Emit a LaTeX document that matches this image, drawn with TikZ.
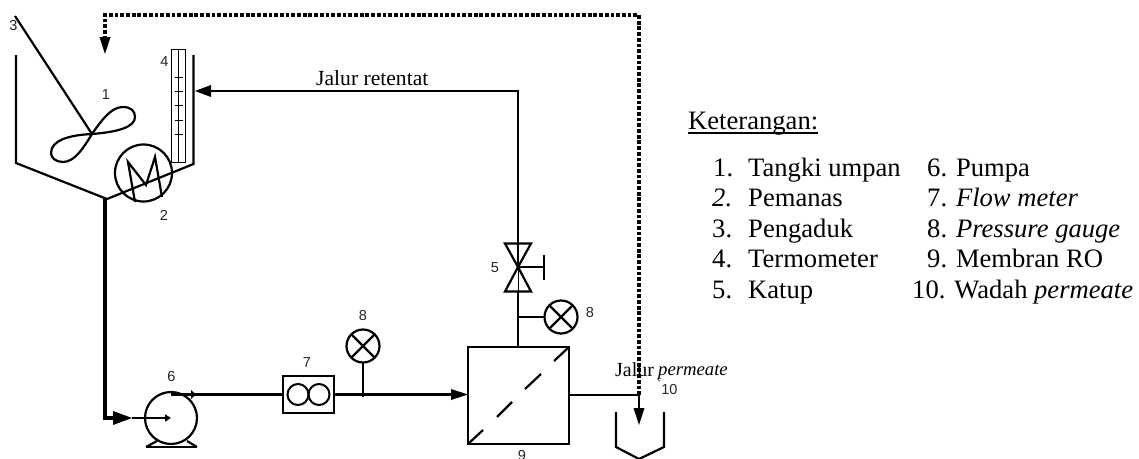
\documentclass[tikz,border=0pt]{standalone}
\usepackage{fontspec}
\setmainfont{Liberation Serif}
\newfontfamily\labelfont{Liberation Sans}
\usetikzlibrary{arrows.meta}
\tikzset{
  pipe/.style={line width=2.2pt,line join=miter},
  thick pipe/.style={line width=3.6pt},
  thin pipe/.style={line width=1.5pt},
  recycle/.style={line width=3.5pt,dash pattern=on 3.8pt off 1.9pt},
  small tip/.style={-{Triangle[length=6pt,width=7pt]}},
  gauge/.style={circle,draw,line width=2.2pt,minimum size=33pt,inner sep=0pt,outer sep=0pt},
  numlabel/.style={font=\labelfont\fontsize{14.5}{15}\selectfont,text=black!85,inner sep=0pt},
  legend/.style={font=\fontsize{26.6}{28}\selectfont,anchor=base west,inner sep=0pt},
}
\begin{document}
\begin{tikzpicture}[x=1pt,y=-1pt]
\clip (0,0) rectangle (1139,458);
\fill[white] (0,0) rectangle (1139,458);
% tank
\coordinate (tankout) at (107,199);
\draw[pipe] (16,55) -- (16,163) -- (tankout) -- (193.5,164) -- (193.5,55);
% stirrer
\coordinate (hub) at (92,134);
\draw[pipe] (15,16) -- (hub);
\draw[pipe] (hub) .. controls (103,118) and (112,107) .. (123,107)
  .. controls (131,107) and (135,111) .. (135,117)
  .. controls (135,127) and (118,132) .. (hub);
\draw[pipe] (hub) .. controls (84,147) and (75,162) .. (63,162)
  .. controls (56,162) and (51,158) .. (51,153)
  .. controls (51,140) and (70,135) .. (hub);
% thermometer
\draw[line width=0.9pt] (171.5,49.5) rectangle (185.5,162);
\draw[line width=0.9pt] (178.5,49.5) -- (178.5,162);
\foreach \yy in {77.5,91.5,105.5,120,134}
  \draw[line width=0.8pt] (174.5,\yy) -- (182.5,\yy);
% heater
\node[circle,draw,line width=2.2pt,minimum size=57pt,inner sep=0pt,fill=none] (heater) at (143.5,173) {};
\draw[pipe] (135,202) -- (128,162) -- (146,185) -- (155,157) -- (162,197);
% recycle line
\coordinate (reca) at (639,395);
\coordinate (recb) at (639,15);
\coordinate (recc) at (105,15);
\coordinate (recd) at (105,54);
\draw[recycle] (reca) -- (recb) -- (recc) -- (105,38);
\fill (recd) -- (99.5,37) -- (110.5,37) -- cycle;
% feed
\coordinate (feedtop) at (105,199);
\coordinate (feedcorner) at (105,418);
\node[circle,draw,line width=2.2pt,minimum size=52pt,inner sep=0pt] (pump) at (171,418) {};
\draw[thick pipe] (feedtop) -- (feedcorner) -- (116,418);
\fill (132,418) -- (113,411) -- (113,425) -- cycle;
\draw[thin pipe,small tip] (132,418) -- (pump.center);
\draw[pipe] (146,447) -- (157,441);
\draw[pipe] (187,441) -- (197,447);
\draw[pipe] (146,447) -- (197,447);
% flow meter
\node[draw,line width=2.2pt,minimum width=51pt,minimum height=37pt,inner sep=0pt,outer sep=0pt] (flow) at (308.5,394.5) {};
\draw[line width=2pt] (298,394.5) circle (10.5pt);
\draw[line width=2pt] (319,394.5) circle (10.5pt);
\coordinate (pumpout) at (171,394.5);
\draw[pipe] (pumpout) -- (flow.west);
\fill (196,394.5) -- (191,390) -- (191,399) -- cycle;
% membrane
\node[draw,line width=2.2pt,minimum width=101pt,minimum height=97pt,inner sep=0pt,outer sep=0pt] (mem) at (518.5,395.5) {};
\draw[pipe] (flow.east) -- (452,394.5);
\fill (468,394.5) -- (451,389) -- (451,400) -- cycle;
\draw[pipe] (mem.south west) -- (483,430);
\draw[pipe] (497,417) -- (512,402);
\draw[pipe] (525,389) -- (541,374);
\draw[pipe] (554,361) -- (mem.north east);
% gauge 1
\node[gauge] (ga) at (363,346) {};
\draw[pipe] (ga.south) -- (363,397);
\draw[pipe] (ga.45) -- (ga.225);
\draw[pipe] (ga.135) -- (ga.315);
% valve
\coordinate (vc) at (518,267);
\draw[pipe] (505,243.5) -- (531,243.5) -- (vc) -- cycle;
\draw[pipe] (505,291.5) -- (531,291.5) -- (vc) -- cycle;
\draw[pipe] (vc) -- (544,267);
\draw[pipe] (544,255) -- (544,280);
\draw[line width=0.8pt] (vc) -- (518,291.5);
\coordinate (retcorner) at (518,91);
\coordinate (tankin) at (195,91);
\draw[pipe] (vc) -- (retcorner) -- (208,91);
\fill (tankin) -- (211,85) -- (211,97) -- cycle;
\draw[pipe] (mem.north -| vc) -- (518,291.5);
% gauge 2
\node[gauge] (gb) at (561,317) {};
\draw[pipe] (518,317) -- (gb.west);
\draw[pipe] (gb.45) -- (gb.225);
\draw[pipe] (gb.135) -- (gb.315);
% permeate
\draw[pipe] (mem.east |- reca) -- (reca) -- (639,410);
\fill (639,425) -- (633.5,408) -- (644.5,408) -- cycle;
\draw[pipe] (616,412) -- (616,447) -- (639,459) -- (664,447) -- (664,412);
% numbers
\node[numlabel] (n3) at (13.5,26) {3};
\node[numlabel] (n1) at (106,95) {1};
\node[numlabel] (n4) at (164.5,62) {4};
\node[numlabel] (n2) at (164,215) {2};
\node[numlabel] (n6) at (171.5,377) {6};
\node[numlabel] (n7) at (307,363) {7};
\node[numlabel] (n8a) at (363,316) {8};
\node[numlabel] (n5) at (495,268) {5};
\node[numlabel] (n8b) at (590,313) {8};
\node[numlabel] (n9) at (522,455) {9};
\node[numlabel] (n10) at (667,387) {\raisebox{4pt}{`}10};
% line labels
\node[anchor=base west,inner sep=0pt,font=\fontsize{21.6}{23}\selectfont] (jr) at (316,85) {Jalur retentat};
\node[anchor=base west,inner sep=0pt,font=\fontsize{20}{22}\selectfont] (jp) at (615,376.5) {Jalur};
\node[anchor=base west,inner sep=0pt,font=\fontsize{18.7}{20}\selectfont\itshape] (jq) at (658,375) {permeate};
% legend
\node[legend] (kt) at (688,129.5) {Keterangan:};
\draw[line width=1.1pt] (688,133) -- (818,133);
\node[legend] (a1) at (713,176) {1.};
\node[legend] (t1) at (748,176) {Tangki umpan};
\node[legend] (a2) at (712,206.7) {\textit{2.}};
\node[legend] (t2) at (748,206.7) {Pemanas};
\node[legend] (a3) at (712,237.2) {3.};
\node[legend] (t3) at (748,237.2) {Pengaduk};
\node[legend] (a4) at (712,267.7) {4.};
\node[legend] (t4) at (748,267.7) {Termometer};
\node[legend] (a5) at (712,298.2) {5.};
\node[legend] (t5) at (748,298.2) {Katup};
\node[legend] (b6) at (927,176) {6. Pumpa};
\node[legend] (b7) at (927,206.7) {7. \textit{Flow meter}};
\node[legend] (b8) at (927,237.2) {8. \textit{Pressure gauge}};
\node[legend] (b9) at (927,267.7) {9. Membran RO};
\node[legend] (b10) at (912,298.2) {10. Wadah \textit{permeate}};
\end{tikzpicture}
\end{document}
